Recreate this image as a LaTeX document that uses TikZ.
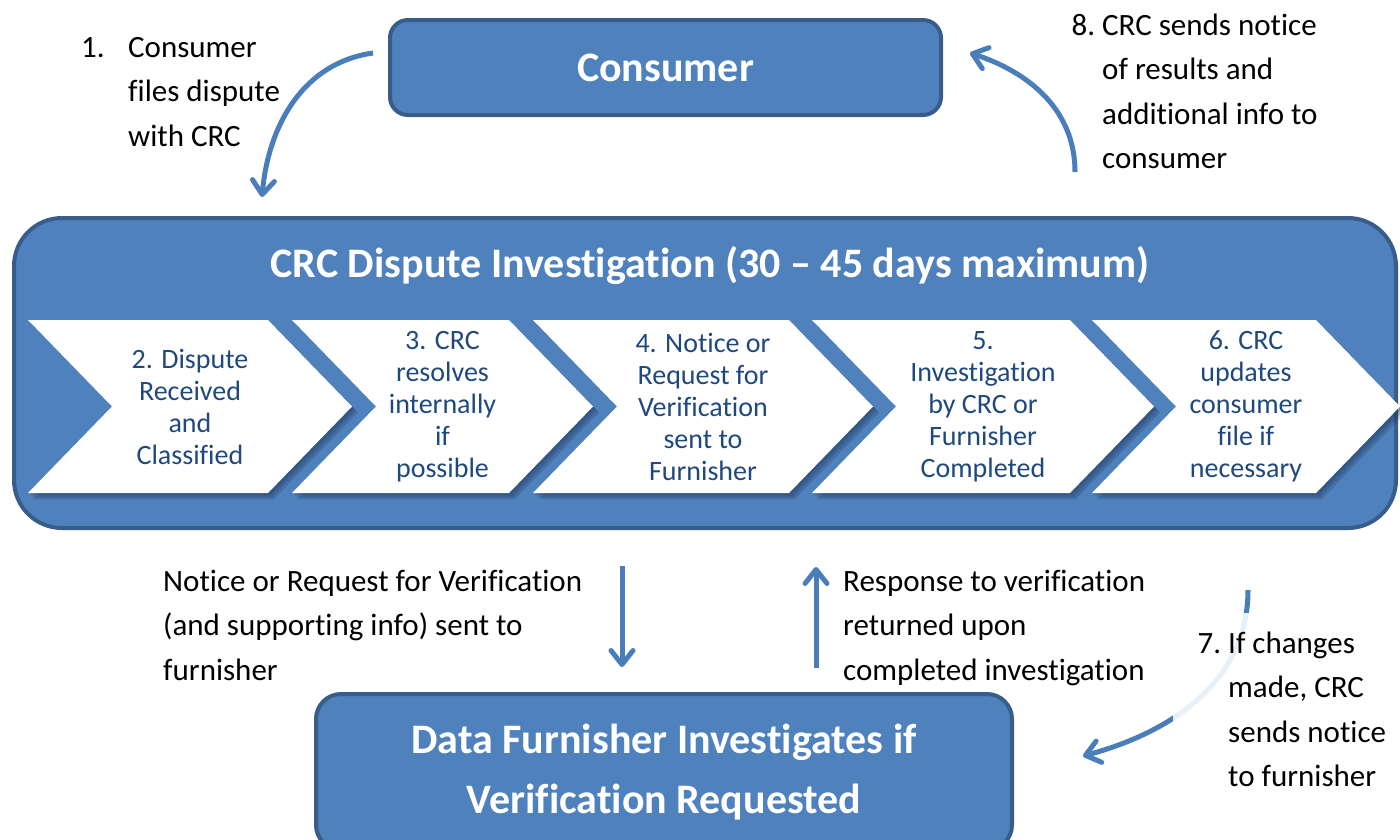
\documentclass[tikz,border=0pt]{standalone}
\usepackage{fontspec}
\setmainfont{Carlito}[Ligatures={TeX,NoCommon}]
\usetikzlibrary{arrows.meta}

\definecolor{boxblue}{HTML}{4F81BD}
\definecolor{boxedge}{HTML}{385D8A}
\definecolor{chevtext}{HTML}{1F497D}
\definecolor{arrowblue}{HTML}{4A7EBB}
\definecolor{shadeblue}{HTML}{1C3354}

\begin{document}
\begin{tikzpicture}[x=1pt,y=-1pt,
    bluebox/.style={draw=boxedge, line width=4pt, fill=boxblue, text=white,
      font=\fontsize{42}{60}\selectfont\bfseries, align=center},
    steptext/.style={text=chevtext, font=\fontsize{28}{32}\selectfont,
      align=center, inner sep=0pt},
    note/.style={font=\fontsize{31}{44.5}\selectfont, align=left,
      inner sep=0pt, anchor=base west},
    flow/.style={draw=arrowblue, line width=5pt,
      -{Straight Barb[length=14pt,width=22pt,round]}}]
  \useasboundingbox (0,0) rectangle (1400,839);
  \clip (0,0) rectangle (1400,839);

  \node[bluebox, rounded corners=18pt, minimum width=551pt, minimum height=95pt]
    (consumer) at (665.5,67.5) {Consumer};
  \node[bluebox, rounded corners=48pt, minimum width=1382pt, minimum height=310pt]
    (crc) at (705,373) {};
  \node[text=white, font=\fontsize{42}{60}\selectfont\bfseries, anchor=base, inner sep=0pt]
    (crctitle) at (710,277) {CRC Dispute Investigation (30 – 45 days maximum)};
  \node[bluebox, rounded corners=25pt, minimum width=696pt, minimum height=156pt]
    (furnisher) at (664,772) {Data Furnisher Investigates if\\Verification Requested};

  % steps 2 - 6
  \foreach \l/\r/\txt [count=\i] in {
      28/268/{2. Dispute\\Received\\and\\Classified},
      292/509/{3. CRC\\resolves\\internally\\if\\possible},
      533/789/{4. Notice or\\Request for\\Verification\\sent to\\Furnisher},
      812/1070/{5.\\Investigation\\by CRC or\\Furnisher\\Completed},
      1092/1316/{6. CRC\\updates\\consumer\\file if\\necessary}} {
    \foreach \s in {2,4,6}
      \fill[shadeblue, opacity=.22] (\l+\s,320+\s) -- (\r+\s,320+\s) -- (\r+84+\s,406.5+\s)
        -- (\r+\s,493+\s) -- (\l+\s,493+\s) -- (\l+84+\s,406.5+\s) -- cycle;
    \fill[white] (\l,320) -- (\r,320) -- (\r+84,406.5) -- (\r,493) -- (\l,493)
      -- (\l+84,406.5) -- cycle;
    \node[steptext] (step\i) at ({(\l+84+\r)/2},406.5) {\txt};
  }

  % arrows
  \draw[flow] (373,53) to[out=188,in=85] (262,197);
  \draw[flow] (1075,172) to[out=90,in=-18] (970,53);
  \draw[flow] (622,566) -- (622,667);
  \draw[flow] (816,668) -- (816,567);
  \draw[flow] (1248,590) to[out=-90,in=15] (1083,756);

  % labels (base = last line)
  \node[note] (filelabel) at (128,146)
    {\llap{1.\hspace{23.5pt}}Consumer\\files dispute\\with CRC};
  \node[note] (resultlabel) at (1102,168.5)
    {\llap{8.\ }CRC sends notice\\of results and\\additional info to\\consumer};
  \node[note] (requestlabel) at (163,680)
    {Notice or Request for Verification\\(and supporting info) sent to\\furnisher};
  \node[note] (responselabel) at (843,680)
    {Response to verification\\returned upon\\completed investigation};
  \node[note, fill=white, fill opacity=.88, text opacity=1, inner xsep=55pt, inner ysep=18pt]
    (changelabel) at (1173,786.5)
    {\llap{7.\ }If changes\\made, CRC\\sends notice\\to furnisher};
\end{tikzpicture}
\end{document}
